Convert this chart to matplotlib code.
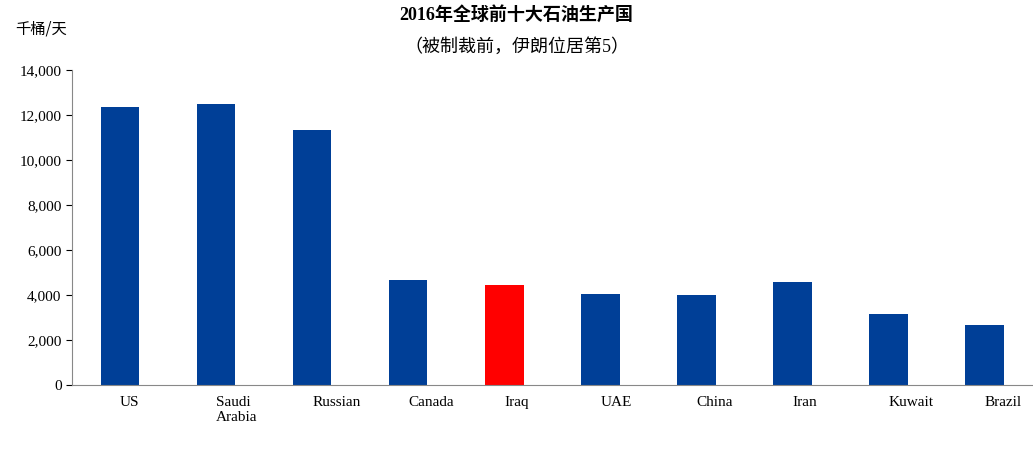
import matplotlib
matplotlib.use('Agg')
from matplotlib import pyplot as plt

countries = ['US', 'Saudi\nArabia', 'Russian', 'Canada', 'Iraq', 'UAE', 'China', 'Iran', 'Kuwait', 'Brazil']
output = [12350, 12490, 11330, 4670, 4440, 4040, 4000, 4580, 3160, 2670]
highlight = 'Iraq'

colors = ['#FF0000' if c == highlight else '#003F97' for c in countries]

fig = plt.figure(figsize=(10.33, 4.5), dpi=100)
ax = fig.add_axes([0.0697, 0.1444, 0.93, 0.70])
x = range(len(countries))
ax.bar(x, output, width=0.4, color=colors)

ax.set_xlim(-0.5, len(countries) - 0.5)
ax.set_ylim(0, 14000)
ax.set_yticks(range(0, 14001, 2000))
ax.set_yticklabels([f'{v:,}' for v in range(0, 14001, 2000)], fontfamily='Liberation Serif', fontsize=11)
ax.set_xticks(list(x))
ax.set_xticklabels(countries, fontfamily='Liberation Serif', fontsize=11, ha='left', multialignment='left')
for lbl in ax.get_xticklabels():
    lbl.set_x(0)
ax.set_xticklabels(countries, fontfamily='Liberation Serif', fontsize=11)
ax.tick_params(axis='x', length=0, pad=8)
ax.tick_params(axis='y', direction='out', length=4)
for s in ['top', 'right']:
    ax.spines[s].set_visible(False)
ax.spines['left'].set_color('#888888')
ax.spines['bottom'].set_color('#888888')

fig.text(0.5, 0.955, '2016年全球前十大石油生产国', ha='center', fontsize=13,
         fontweight='bold', fontfamily=['Liberation Serif', 'Noto Sans CJK SC'])
fig.text(0.5, 0.885, '（被制裁前，伊朗位居第5）', ha='center', fontsize=13,
         fontfamily=['Liberation Serif', 'Noto Sans CJK SC'])
fig.text(0.015, 0.925, '千桶/天', ha='left', fontsize=11, fontfamily=['Noto Sans CJK SC'])

plt.savefig('out.png', dpi=100)
